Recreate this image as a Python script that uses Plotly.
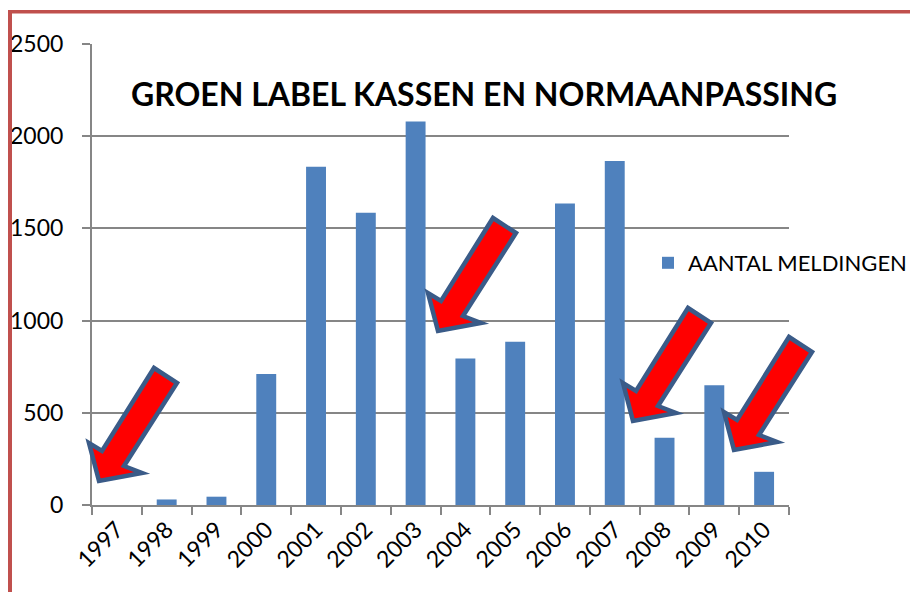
import plotly.graph_objects as go

# ---- data ----
years = ["1997", "1998", "1999", "2000", "2001", "2002", "2003",
         "2004", "2005", "2006", "2007", "2008", "2009", "2010"]
meldingen = [0, 30, 45, 710, 1835, 1585, 2080, 795, 885, 1635, 1865, 365, 650, 180]
y_ticks = [0, 500, 1000, 1500, 2000, 2500]
title_text = "GROEN LABEL KASSEN EN NORMAANPASSING"
series_name = "AANTAL MELDINGEN"

W, H = 918, 592
OFF = 8  # page body margin
L, R, T, B = 92, 789, 44, 505  # plot area in screenshot pixels


def px(x):
    return (x - L) / (R - L)


def py(y):
    return (B - y) / (B - T)


BAR = "#4f81bd"
GRID = "#868686"
FONT = "Lato"

fig = go.Figure()
fig.add_trace(go.Bar(x=years, y=meldingen, name=series_name,
                     marker=dict(color=BAR, line=dict(width=0)),
                     showlegend=True))

# Arrow decoration (relative to tip, in pixels)
arrow_rel = [(0, 0), (-10, -38), (3, -30), (55, -113), (78, -98), (25, -15), (43, -8)]
arrow_tips = [(99, 481), (438, 331), (633, 421), (734, 450)]
shapes = []
for tx, ty in arrow_tips:
    pts = [(px(tx + dx), py(ty + dy)) for dx, dy in arrow_rel]
    path = "M " + " L ".join(f"{a:.5f},{b:.5f}" for a, b in pts) + " Z"
    shapes.append(dict(type="path", xref="paper", yref="paper", path=path,
                       fillcolor="#ff0000", line=dict(color="#3a5b88", width=4.5),
                       layer="above"))

# red frame (left and top)
shapes.append(dict(type="line", xref="paper", yref="paper",
                   x0=px(9.5), x1=px(9.5), y0=py(10), y1=py(600),
                   line=dict(color="#c0504d", width=5)))
shapes.append(dict(type="line", xref="paper", yref="paper",
                   x0=px(7), x1=px(930), y0=py(11.7), y1=py(11.7),
                   line=dict(color="#c0504d", width=3.5)))

fig.update_layout(
    width=W, height=H,
    margin=dict(l=L - OFF, r=W - (R - OFF), t=T - OFF, b=H - (B - OFF), pad=0,
                autoexpand=False),
    paper_bgcolor="white", plot_bgcolor="white",
    bargap=0.6,
    font=dict(family=FONT, size=23, color="black"),
    shapes=shapes,
    annotations=[dict(text="<b>" + title_text + "</b>", xref="paper", yref="paper",
                      x=px(484), y=py(93), xanchor="center", yanchor="middle",
                      showarrow=False, font=dict(family=FONT, size=32, color="black"))],
    legend=dict(x=px(648), y=py(263), xanchor="left", yanchor="middle",
                bgcolor="rgba(0,0,0,0)", font=dict(family=FONT, size=22),
                itemwidth=30, tracegroupgap=0),
)
fig.update_xaxes(type="category", showgrid=False, showline=True, linecolor=GRID,
                 linewidth=2, ticks="outside", ticklen=8, tickcolor=GRID, tickwidth=2,
                 tickson="boundaries", tickangle=-45, automargin=False,
                 tickfont=dict(family=FONT, size=23, color="black"))
fig.update_yaxes(range=[0, 2500], tickvals=y_ticks, showgrid=True, gridcolor=GRID,
                 gridwidth=2, showline=True, linecolor=GRID, linewidth=2,
                 ticks="outside", ticklen=8, tickcolor=GRID, tickwidth=2,
                 ticklabelstandoff=14, automargin=False,
                 zeroline=False, tickfont=dict(family=FONT, size=23, color="black"))

fig.write_html("out.html")
